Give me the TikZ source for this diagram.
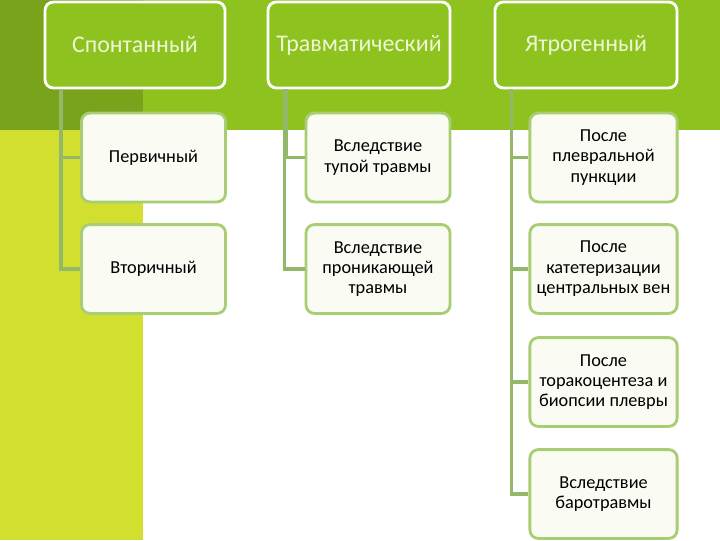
\documentclass[tikz,border=0pt]{standalone}
\usepackage{fontspec}
\setmainfont{Carlito}
\usepackage{xcolor}

\definecolor{darkleaf}{HTML}{7AA31C}
\definecolor{brightleaf}{HTML}{8EC31F}
\definecolor{lime}{HTML}{D3DF2F}
\definecolor{stem}{HTML}{93B86A}
\definecolor{rim}{HTML}{A8CD74}
\definecolor{cream}{HTML}{EEF6D6}
\definecolor{paper}{HTML}{FAFCF4}

\tikzset{
  head/.style={draw=white, line width=2pt, fill=brightleaf, rounded corners=6pt,
    minimum width=4.5cm, minimum height=2.15cm, text=cream,
    font=\fontsize{17}{20}\selectfont},
  leaf/.style={draw=rim, line width=2pt, fill=paper, rounded corners=6pt,
    minimum width=3.6cm, minimum height=2.22cm, align=center, text=black,
    font=\fontsize{13}{14.5}\selectfont},
  link/.style={draw=stem, line width=2.6pt}
}

\begin{document}
\begin{tikzpicture}[x=0.025cm, y=-0.025cm]

% background panels
\fill[darkleaf] (0,0) rectangle (143,130);
\fill[brightleaf] (143,0) rectangle (720,130);
\fill[lime] (0,130) rectangle (143,540);
\fill[white] (143,130) rectangle (720,540);
\useasboundingbox (0,0) rectangle (720,540);

% headers
\node[head] (h1) at (135,45) {Спонтанный};
\node[head, minimum width=4.55cm] (h2) at (359,45) {Травматический};
\node[head, minimum width=4.55cm] (h3) at (586,45) {Ятрогенный};

% spontaneous
\node[leaf] (s1) at (153.5,157.5) {Первичный};
\node[leaf] (s2) at (153.5,269) {Вторичный};

% traumatic
\node[leaf] (t1) at (378,157.5) {Вследствие\\тупой травмы};
\node[leaf] (t2) at (378,269) {Вследствие\\проникающей\\травмы};

% iatrogenic
\node[leaf, minimum width=3.68cm] (i1) at (603.5,157.5) {После\\плевральной\\пункции};
\node[leaf, minimum width=3.68cm] (i2) at (603.5,269) {После\\катетеризации\\центральных вен};
\node[leaf, minimum width=3.68cm] (i3) at (603.5,382) {После\\торакоцентеза и\\биопсии плевры};
\node[leaf, minimum width=3.68cm] (i4) at (603.5,494) {Вследствие\\баротравмы};

% connectors
\begin{scope}[on background layer/.try]
\draw[link] ([xshift=0.43cm]h1.south west) |- (s1.west);
\draw[link] ([xshift=0.43cm]h1.south west) |- (s2.west);
\draw[link] ([xshift=0.5cm]h2.south west) |- (t1.west);
\draw[link] ([xshift=0.45cm]h2.south west) |- (t2.west);
\draw[link] ([xshift=0.45cm]h3.south west) |- (i1.west);
\draw[link] ([xshift=0.45cm]h3.south west) |- (i2.west);
\draw[link] ([xshift=0.45cm]h3.south west) |- (i3.west);
\draw[link] ([xshift=0.45cm]h3.south west) |- (i4.west);
\end{scope}

\end{tikzpicture}
\end{document}
